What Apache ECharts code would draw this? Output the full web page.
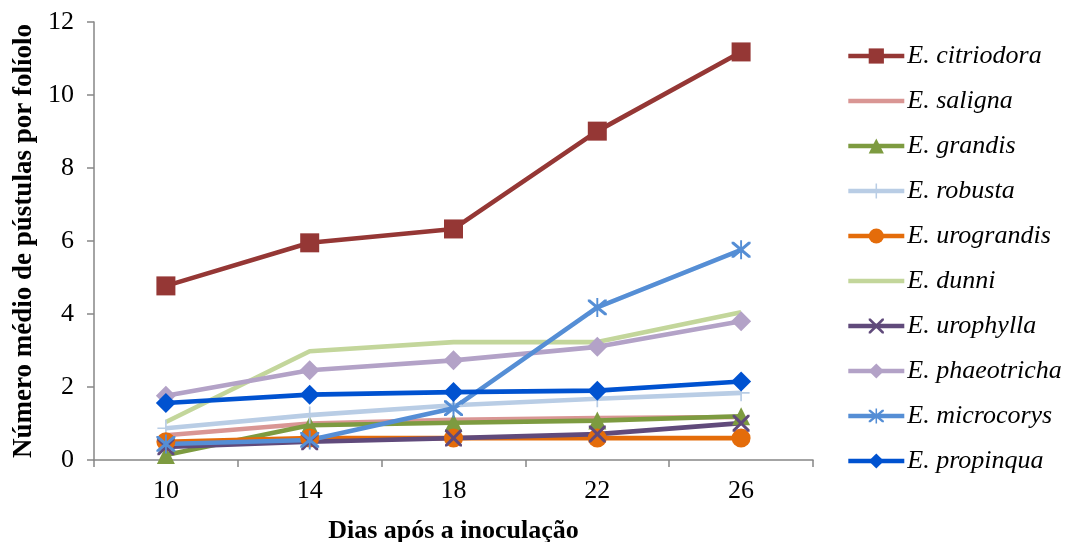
<!DOCTYPE html>
<html><head><meta charset="utf-8">
<script src="https://cdn.jsdelivr.net/npm/echarts@6/dist/echarts.min.js"></script>
<style>html,body{margin:0;padding:0;background:#fff}#c{width:1069px;height:542px}</style>
</head><body><div id="c"></div>
<script>
const days = ['10','14','18','22','26'];
const citriodora  = [4.77, 5.95, 6.33, 9.01, 11.18];
const saligna     = [0.68, 1.00, 1.10, 1.15, 1.18];
const grandis     = [0.14, 0.95, 1.02, 1.08, 1.20];
const robusta     = [0.87, 1.23, 1.50, 1.68, 1.84];
const urograndis  = [0.50, 0.60, 0.60, 0.60, 0.60];
const dunni       = [1.04, 2.98, 3.23, 3.23, 4.05];
const urophylla   = [0.36, 0.50, 0.60, 0.71, 1.01];
const phaeotricha = [1.76, 2.46, 2.73, 3.10, 3.80];
const microcorys  = [0.44, 0.55, 1.42, 4.18, 5.76];
const propinqua   = [1.56, 1.79, 1.86, 1.90, 2.15];
const yTicks = ['0','2','4','6','8','10','12'];

const X = 'path://M0,0 L2.5,0 L10,7.5 L17.5,0 L20,0 L20,2.5 L12.5,10 L20,17.5 L20,20 L17.5,20 L10,12.5 L2.5,20 L0,20 L0,17.5 L7.5,10 L0,2.5 Z';
const PLUS = 'path://M9,0 L11,0 L11,9 L20,9 L20,11 L11,11 L11,20 L9,20 L9,11 L0,11 L0,9 L9,9 Z';
const STAR = 'path://M0,0 L2.5,0 L10,7.5 L17.5,0 L20,0 L20,2.5 L12.5,10 L20,17.5 L20,20 L17.5,20 L10,12.5 L2.5,20 L0,20 L0,17.5 L7.5,10 L0,2.5 Z M9,-2 L11,-2 L11,22 L9,22 Z';

function s(name, data, color, symbol, size) {
  return {
    name: name, type: 'line', data: data,
    symbol: symbol || 'none', symbolSize: size || 16, showSymbol: !!symbol,
    lineStyle: {color: color, width: 4.6},
    itemStyle: {color: color},
    emphasis: {disabled: true}, animation: false
  };
}
const F = "'Liberation Serif', 'Times New Roman', serif";
const names = ['E. citriodora','E. saligna','E. grandis','E. robusta','E. urograndis','E. dunni','E. urophylla','E. phaeotricha','E. microcorys','E. propinqua'];
const noSym = {'E. saligna':1, 'E. dunni':1};

const chart = echarts.init(document.getElementById('c'));
chart.setOption({
  animation: false,
  grid: {left: 94, right: 256, top: 22, bottom: 82, containLabel: false, outerBoundsMode: 'none'},
  xAxis: {
    type: 'category', data: days, boundaryGap: true,
    name: 'Dias após a inoculação', nameLocation: 'middle', nameGap: 58,
    nameTextStyle: {fontFamily: F, fontWeight: 'bold', fontSize: 26, color: '#000'},
    axisLine: {lineStyle: {color: '#868686', width: 1.5}},
    axisTick: {show: true, length: 7, lineStyle: {color: '#868686', width: 1.5}},
    axisLabel: {fontFamily: F, fontSize: 26, color: '#000', margin: 18},
    splitLine: {show: false}
  },
  yAxis: {
    type: 'value', min: 0, max: 12, interval: 2,
    name: 'Número médio de pústulas por folíolo', nameLocation: 'middle', nameGap: 56,
    nameTextStyle: {fontFamily: F, fontWeight: 'bold', fontSize: 27, color: '#000'},
    axisLine: {show: true, lineStyle: {color: '#868686', width: 1.5}},
    axisTick: {show: true, length: 7, lineStyle: {color: '#868686', width: 1.5}},
    axisLabel: {fontFamily: F, fontSize: 26, color: '#000', margin: 20,
      formatter: function(v){ return yTicks[Math.round(v/2)]; }},
    splitLine: {show: false}
  },
  legend: {
    orient: 'vertical', left: 841, top: 38, itemGap: 19.0,
    itemWidth: 56, itemHeight: 19,
    lineStyle: {width: 4.6},
    textStyle: {fontFamily: F, fontStyle: 'italic', fontSize: 26, color: '#000', padding: [0,0,0,-2]},
    data: names.map(n => noSym[n] ? {name: n, itemStyle: {opacity: 0}} : {name: n})
  },
  series: [
    s('E. citriodora', citriodora, '#953735', 'rect', 19),
    s('E. saligna', saligna, '#D99694', null),
    s('E. grandis', grandis, '#7D9B40', 'triangle', 18),
    s('E. robusta', robusta, '#B9CDE5', PLUS, 17),
    s('E. urograndis', urograndis, '#E46C0A', 'circle', 19),
    s('E. dunni', dunni, '#C3D69B', null),
    s('E. urophylla', urophylla, '#604A7B', X, 17),
    s('E. phaeotricha', phaeotricha, '#B3A2C7', 'diamond', 20),
    s('E. microcorys', microcorys, '#558ED5', STAR, 19),
    s('E. propinqua', propinqua, '#0052D0', 'diamond', 20)
  ]
});
</script></body></html>
